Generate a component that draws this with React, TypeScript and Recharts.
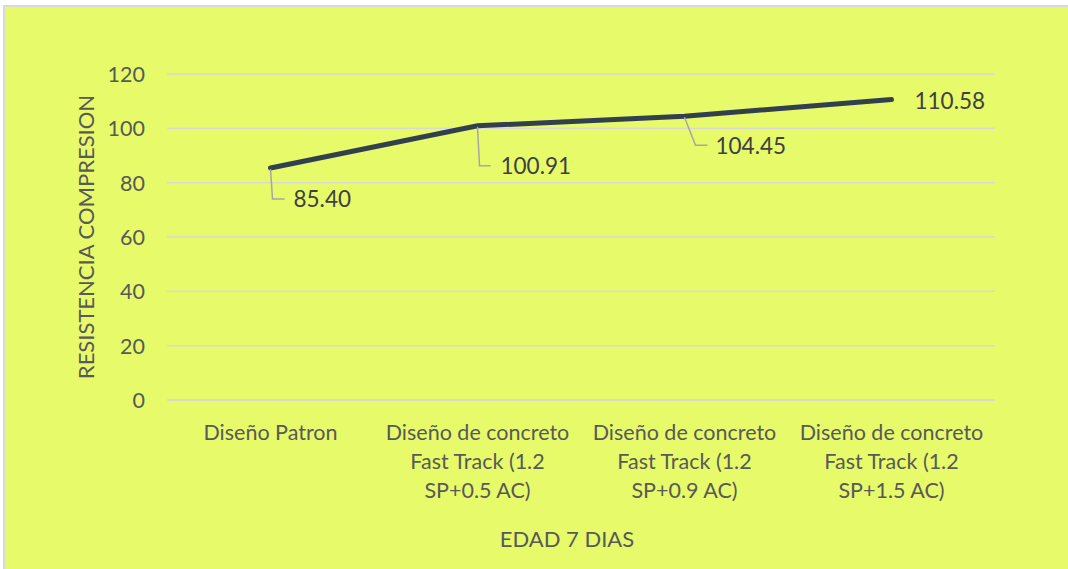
import React from "react";
import { LineChart, Line, XAxis, YAxis, CartesianGrid, LabelList, Label } from "recharts";

const categories = [
  "Diseño Patron",
  "Diseño de concreto Fast Track (1.2 SP+0.5 AC)",
  "Diseño de concreto Fast Track (1.2 SP+0.9 AC)",
  "Diseño de concreto Fast Track (1.2 SP+1.5 AC)",
];
const categoryLines = [
  ["Diseño Patron"],
  ["Diseño de concreto", "Fast Track (1.2", "SP+0.5 AC)"],
  ["Diseño de concreto", "Fast Track (1.2", "SP+0.9 AC)"],
  ["Diseño de concreto", "Fast Track (1.2", "SP+1.5 AC)"],
];
const resistencia = [85.4, 100.91, 104.45, 110.58];
const yTicks = [0, 20, 40, 60, 80, 100, 120];

const data = categories.map((c, i) => ({ name: c, value: resistencia[i] }));

// label leader offsets (layout only)
const labelOffsets = [
  { bx: 2, dy: 31, ex: 14, tx: 23, leader: true },
  { bx: 2, dy: 40, ex: 13, tx: 23, leader: true },
  { bx: 11, dy: 29, ex: 23, tx: 31, leader: true },
  { bx: 0, dy: 1, ex: 0, tx: 23, leader: false },
];

const FONT = "Lato, 'Open Sans', sans-serif";
const TEXT = "#595959";
const FS = 21.5;

const XTick = (props: any) => {
  const { x, y, index } = props;
  const lines = categoryLines[index] || [];
  return (
    <g>
      {lines.map((l, i) => (
        <text
          key={i}
          x={x}
          y={y + 24 + i * 29}
          textAnchor="middle"
          dominantBaseline="central"
          fill={TEXT}
          fontSize={FS}
          fontFamily={FONT}
        >
          {l}
        </text>
      ))}
    </g>
  );
};

const YTick = (props: any) => {
  const { x, y, payload } = props;
  return (
    <text x={x} y={y} textAnchor="end" dominantBaseline="central" fill={TEXT} fontSize={FS} fontFamily={FONT}>
      {payload.value}
    </text>
  );
};

const DataLabel = (props: any) => {
  const { x, y, value, index } = props;
  const o = labelOffsets[index];
  const ly = y + o.dy;
  return (
    <g>
      {o.leader && (
        <polyline
          points={`${x},${y + 1} ${x + o.bx},${ly} ${x + o.ex},${ly}`}
          fill="none"
          stroke="#A6A6A6"
          strokeWidth={1.5}
        />
      )}
      <text x={x + o.tx} y={ly} dominantBaseline="central" fill="#404040" fontSize={22.5} fontFamily={FONT}>
        {Number(value).toFixed(2)}
      </text>
    </g>
  );
};

export default function App() {
  return (
    <div style={{ position: "absolute", left: 0, top: 0, width: 1068, height: 569, background: "#ffffff", overflow: "hidden" }}>
      <div
        style={{
          position: "absolute",
          left: 3,
          top: 5,
          width: 1070,
          height: 570,
          background: "#E6FA6A",
          borderLeft: "2px solid #D9D9D9",
          borderTop: "2px solid #D9D9D9",
        }}
      />
      <LineChart
        width={1068}
        height={569}
        data={data}
        margin={{ top: 74, right: 73, left: 0, bottom: 0 }}
        style={{ position: "absolute", left: 0, top: 0 }}
      >
        <CartesianGrid vertical={false} stroke="#D9D9D9" strokeWidth={1.5} />
        <XAxis
          dataKey="name"
          interval={0}
          height={169}
          padding={{ left: 103.5, right: 103.5 }}
          axisLine={{ stroke: "#D9D9D9", strokeWidth: 1.5 }}
          tickLine={false}
          tick={<XTick />}
        >
          <Label
            value="EDAD 7 DIAS"
            position="insideBottom"
            offset={22}
            dx={-14}
            fill={TEXT}
            fontSize={22}
            fontFamily={FONT}
          />
        </XAxis>
        <YAxis
          width={167}
          domain={[0, 120]}
          ticks={yTicks}
          axisLine={false}
          tickLine={false}
          tickSize={0}
          tickMargin={22}
          tick={<YTick />}
        >
          <Label
            value="RESISTENCIA COMPRESION"
            angle={-90}
            position="insideLeft"
            offset={86}
            fill={TEXT}
            fontSize={22}
            fontFamily={FONT}
            style={{ textAnchor: "middle" }}
          />
        </YAxis>
        <Line
          type="linear"
          dataKey="value"
          stroke="#323F4F"
          strokeWidth={5}
          strokeLinecap="round"
          dot={false}
          activeDot={false}
          isAnimationActive={false}
        >
          <LabelList dataKey="value" content={<DataLabel />} />
        </Line>
      </LineChart>
    </div>
  );
}
